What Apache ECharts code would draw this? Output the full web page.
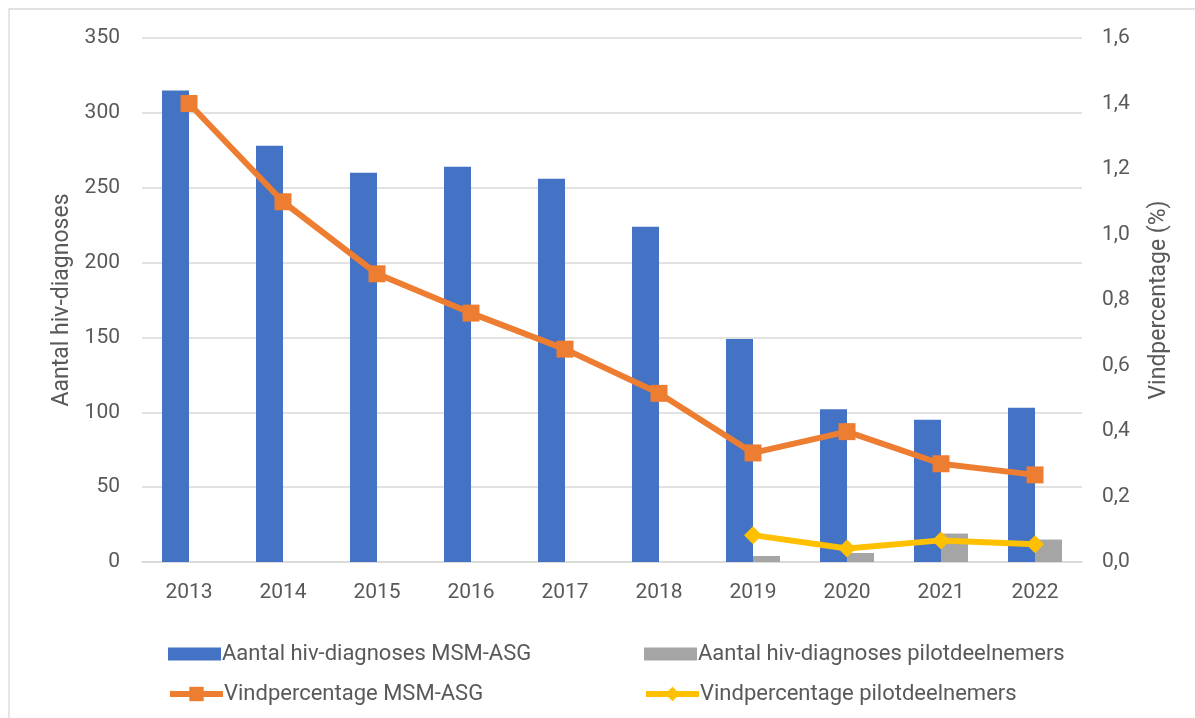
<!DOCTYPE html>
<html>
<head>
<meta charset="utf-8">
<script src="https://cdn.jsdelivr.net/npm/echarts@6/dist/echarts.min.js"></script>
<style>
  html, body { margin: 0; padding: 0; background: #fff; }
  #chart { width: 1195px; height: 718px; }
</style>
</head>
<body>
<div id="chart"></div>
<script>
const years = ['2013', '2014', '2015', '2016', '2017', '2018', '2019', '2020', '2021', '2022'];
const diagnosesMsm = [315, 278, 260, 264, 256, 224, 149, 102, 95, 103];
const diagnosesPilot = [null, null, null, null, null, null, 4, 6, 19, 15];
const rateMsm = [1.40, 1.10, 0.88, 0.76, 0.65, 0.515, 0.333, 0.398, 0.30, 0.266];
const ratePilot = [null, null, null, null, null, null, 0.082, 0.041, 0.066, 0.054];

const font = 'Roboto, "Liberation Sans", sans-serif';
const textColor = '#595959';
const gridColor = '#d9d9d9';

const chart = echarts.init(document.getElementById('chart'));

// one legend per item so each can sit at its own spot
function legendAt(left, top, name, isBar) {
  return {
    left: left,
    top: top,
    data: [isBar ? { name: name, icon: 'rect' } : name],
    itemWidth: 53,
    itemHeight: isBar ? 13 : 18,
    itemGap: 0,
    lineStyle: { width: 6 },
    textStyle: { fontFamily: font, fontSize: 22, color: textColor, padding: [0, 0, 0, -4] },
    selectedMode: false
  };
}

chart.setOption({
  animation: false,
  textStyle: { fontFamily: font },
  graphic: [{
    type: 'rect',
    shape: { x: 9, y: 9, width: 1300, height: 800 },
    style: { fill: 'none', stroke: gridColor, lineWidth: 1.3 },
    silent: true
  }],
  grid: { left: 142, right: 113, top: 38, bottom: 156 },
  legend: [
    legendAt(163, 638, 'Aantal hiv-diagnoses MSM-ASG', true),
    legendAt(639, 638, 'Aantal hiv-diagnoses pilotdeelnemers', true),
    legendAt(162, 678, 'Vindpercentage MSM-ASG', false),
    legendAt(638, 678, 'Vindpercentage pilotdeelnemers', false)
  ],
  xAxis: {
    type: 'category',
    data: years,
    axisLine: { show: true, lineStyle: { color: gridColor, width: 1.5 } },
    axisTick: { show: false },
    axisLabel: { color: textColor, fontSize: 21, margin: 20, fontFamily: font }
  },
  yAxis: [{
    type: 'value',
    min: 0,
    max: 350,
    interval: 50,
    name: 'Aantal hiv-diagnoses',
    nameLocation: 'middle',
    nameGap: 68,
    nameTextStyle: { color: textColor, fontSize: 23, fontFamily: font },
    axisLine: { show: false },
    axisTick: { show: false },
    axisLabel: { color: textColor, fontSize: 21, margin: 22, fontFamily: font },
    splitLine: { lineStyle: { color: gridColor, width: 1.5 } }
  }, {
    type: 'value',
    min: 0,
    max: 1.6,
    interval: 0.2,
    name: 'Vindpercentage (%)',
    nameLocation: 'middle',
    nameGap: 66,
    nameRotate: 90,
    nameTextStyle: { color: textColor, fontSize: 23, fontFamily: font },
    axisLine: { show: false },
    axisTick: { show: false },
    axisLabel: {
      color: textColor, fontSize: 21, margin: 20, fontFamily: font,
      formatter: v => v.toFixed(1).replace('.', ',')
    },
    splitLine: { show: false }
  }],
  series: [{
    name: 'Aantal hiv-diagnoses MSM-ASG',
    type: 'bar',
    data: diagnosesMsm,
    barWidth: 27,
    barGap: '0%',
    itemStyle: { color: '#4472c4' }
  }, {
    name: 'Aantal hiv-diagnoses pilotdeelnemers',
    type: 'bar',
    data: diagnosesPilot,
    barWidth: 27,
    barGap: '0%',
    itemStyle: { color: '#a5a5a5' }
  }, {
    name: 'Vindpercentage MSM-ASG',
    type: 'line',
    yAxisIndex: 1,
    data: rateMsm,
    symbol: 'rect',
    symbolSize: 17,
    lineStyle: { color: '#ed7d31', width: 6 },
    itemStyle: { color: '#ed7d31' }
  }, {
    name: 'Vindpercentage pilotdeelnemers',
    type: 'line',
    yAxisIndex: 1,
    data: ratePilot,
    symbol: 'diamond',
    symbolSize: 18,
    lineStyle: { color: '#ffc000', width: 6 },
    itemStyle: { color: '#ffc000' }
  }]
});
</script>
</body>
</html>
